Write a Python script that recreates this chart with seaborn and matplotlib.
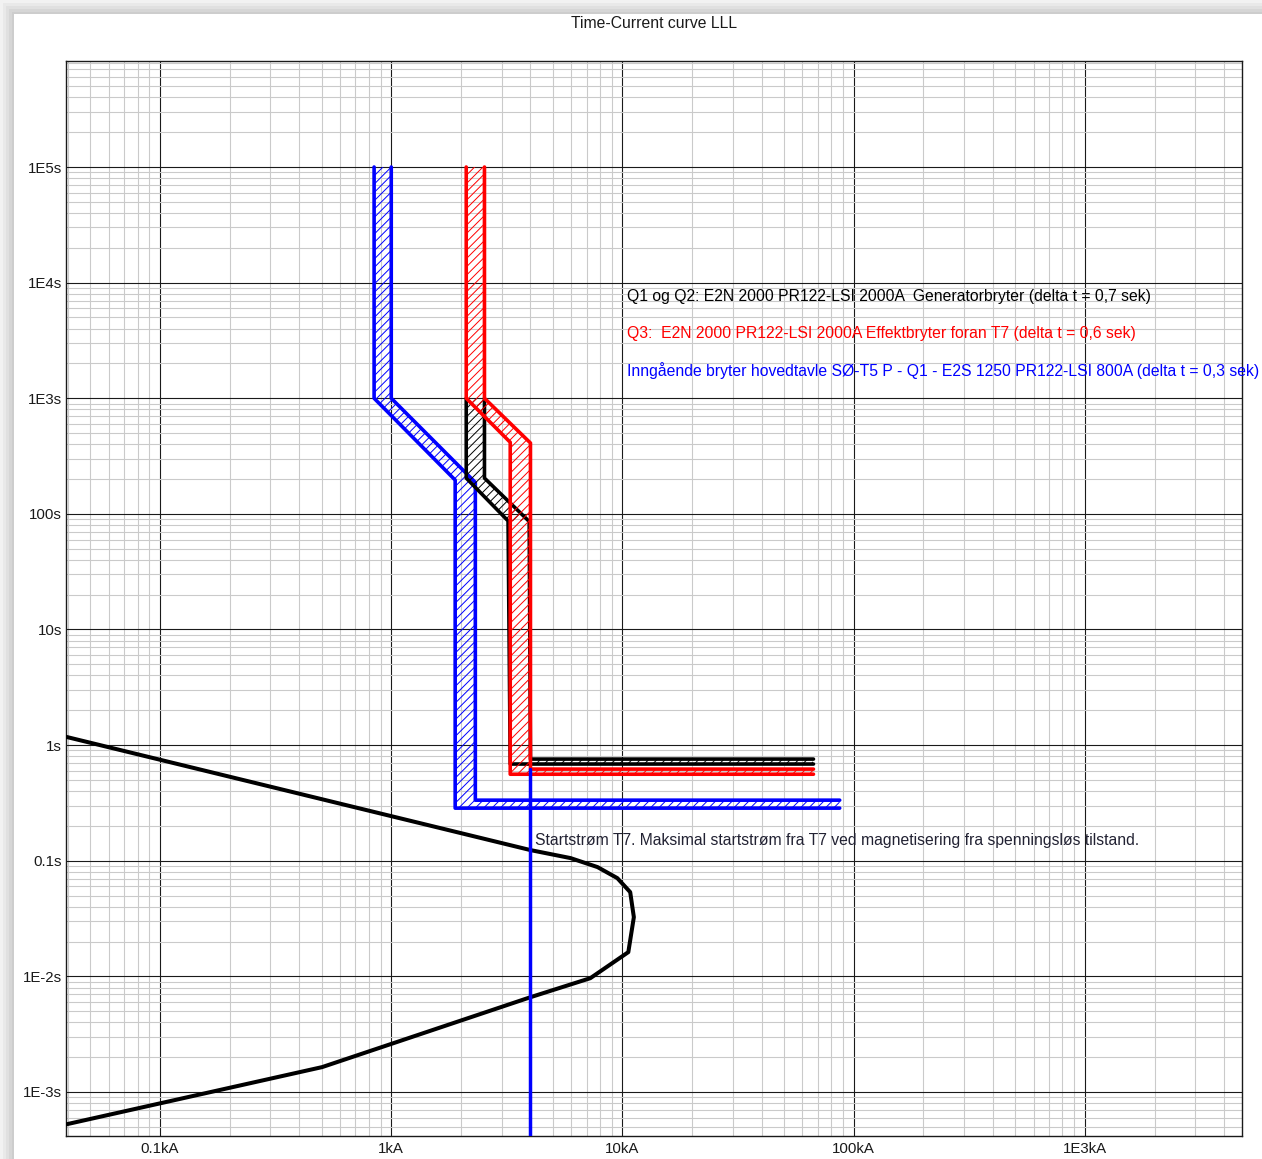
import matplotlib
matplotlib.use("Agg")
import numpy as np
import matplotlib.pyplot as plt
import seaborn as sns
from matplotlib.patches import Polygon, Rectangle
from matplotlib.ticker import FixedLocator, LogLocator, NullFormatter

# --- data (current in kA, time in s) ---
blue_lo_I = [0.843, 0.843, 1.89, 1.89, 87.0]
blue_lo_t = [1e5, 1000, 196, 0.285, 0.285]
blue_hi_I = [1.0, 1.0, 2.31, 2.31, 87.0]
blue_hi_t = [1e5, 1000, 187, 0.334, 0.334]

red_lo_I = [2.11, 2.11, 3.27, 3.27, 67.0]
red_lo_t = [1e5, 1000, 416, 0.56, 0.56]
red_hi_I = [2.53, 2.53, 4.0, 4.0, 67.0]
red_hi_t = [1e5, 1000, 410, 0.62, 0.62]

black_lo_I = [2.11, 2.11, 3.2, 3.27, 67.0]
black_lo_t = [1000, 204, 87, 0.686, 0.686]
black_hi_I = [2.53, 2.53, 3.95, 4.0, 67.0]
black_hi_t = [1000, 204, 86, 0.757, 0.757]

start_I = [4.0, 4.0]
start_t = [0.62, 4.0e-4]

inrush_I = [0.0385, 4.0, 5.96, 7.8, 9.5, 10.8, 11.2, 10.6, 7.26, 4.0, 0.502, 0.0385]
inrush_t = [1.19, 0.1236, 0.1054, 0.0881, 0.0707, 0.0535, 0.0325, 0.0162, 0.00964, 0.0066, 0.00164, 0.00052]

x_ticks = [0.1, 1, 10, 100, 1000]
x_labels = ["0.1kA", "1kA", "10kA", "100kA", "1E3kA"]
y_ticks = [1e5, 1e4, 1e3, 100, 10, 1, 0.1, 1e-2, 1e-3]
y_labels = ["1E5s", "1E4s", "1E3s", "100s", "10s", "1s", "0.1s", "1E-2s", "1E-3s"]

notes = [
    ("Q1 og Q2: E2N 2000 PR122-LSI 2000A  Generatorbryter (delta t = 0,7 sek)", 10.5, 7650, "black"),
    ("Q3:  E2N 2000 PR122-LSI 2000A Effektbryter foran T7 (delta t = 0,6 sek)", 10.5, 3660, "red"),
    ("Inngående bryter hovedtavle SØ-T5 P - Q1 - E2S 1250 PR122-LSI 800A (delta t = 0,3 sek)", 10.5, 1754, "blue"),
    ("Startstrøm T7. Maksimal startstrøm fra T7 ved magnetisering fra spenningsløs tilstand.", 4.2, 0.151, "#222233"),
]

sns.set_style("white")
plt.rcParams["font.family"] = ["Liberation Sans", "DejaVu Sans"]
plt.rcParams["hatch.linewidth"] = 0.7

W, H = 1262, 1159
fig = plt.figure(figsize=(W / 100, H / 100), dpi=100)
fig.patch.set_facecolor("white")

# page shadow on the left / top
for d, c in [(14, "#f2f2f2"), (11, "#e9e9e9"), (8, "#e0e0e0"), (5, "#d6d6d6"), (2, "#cdcdcd")]:
    fig.add_artist(Rectangle(((14 - d) / W, 0), 1, (H - 14 + d) / H, transform=fig.transFigure,
                             facecolor=c, edgecolor="none", zorder=-10))
fig.add_artist(Rectangle((14 / W, 0), 1, (H - 14) / H, transform=fig.transFigure,
                         facecolor="white", edgecolor="none", zorder=-9))

ax = fig.add_axes([66 / W, 1 - 1136 / H, 1176 / W, 1075 / H])
ax.set_xscale("log")
ax.set_yscale("log")
ax.set_xlim(0.0392, 4780)
ax.set_ylim(4.16e-4, 8.26e5)

ax.xaxis.set_major_locator(FixedLocator(x_ticks))
ax.set_xticklabels(x_labels)
ax.yaxis.set_major_locator(FixedLocator(y_ticks))
ax.set_yticklabels(y_labels)
ax.xaxis.set_minor_locator(LogLocator(base=10, subs=np.arange(2, 10), numticks=200))
ax.yaxis.set_minor_locator(LogLocator(base=10, subs=np.arange(2, 10), numticks=200))
ax.xaxis.set_minor_formatter(NullFormatter())
ax.yaxis.set_minor_formatter(NullFormatter())
ax.tick_params(which="both", length=0, labelsize=10.8, colors="#1a1a1a", pad=3)
ax.tick_params(axis="x", pad=4)
ax.grid(which="minor", color="#cacaca", lw=0.8, zorder=0)
ax.grid(which="major", color="#1a1a1a", lw=0.8, zorder=1)
ax.set_axisbelow(True)
for s in ax.spines.values():
    s.set_color("#1a1a1a")
    s.set_linewidth(1.0)


def hatch(pts, color, z):
    ax.add_patch(Polygon(pts, closed=True, fill=False, hatch="////", edgecolor=color, lw=0, zorder=z))


def edges(lo_I, lo_t, hi_I, hi_t, color, z):
    sns.lineplot(x=lo_I, y=lo_t, sort=False, estimator=None, color=color, lw=2.6, ax=ax, zorder=z)
    sns.lineplot(x=hi_I, y=hi_t, sort=False, estimator=None, color=color, lw=2.6, ax=ax, zorder=z)


# blue band
hatch(list(zip(blue_lo_I, blue_lo_t)) + list(zip(blue_hi_I, blue_hi_t))[::-1], "#0000ff", 3)
edges(blue_lo_I, blue_lo_t, blue_hi_I, blue_hi_t, "#0000ff", 3.5)

# black band: hatch only where it is not hidden under the red band
hatch(list(zip(black_lo_I[:3], black_lo_t[:3])) + list(zip(black_hi_I[:3], black_hi_t[:3]))[::-1], "black", 4)
hatch([(black_hi_I[3], black_lo_t[3]), (black_lo_I[4], black_lo_t[4]),
       (black_hi_I[4], black_hi_t[4]), (black_hi_I[3], black_hi_t[3])], "black", 4)
edges(black_lo_I, black_lo_t, black_hi_I, black_hi_t, "black", 4.5)

# red band
hatch(list(zip(red_lo_I, red_lo_t)) + list(zip(red_hi_I, red_hi_t))[::-1], "#ff0000", 5)
edges(red_lo_I, red_lo_t, red_hi_I, red_hi_t, "#ff0000", 5.5)

sns.lineplot(x=inrush_I, y=inrush_t, sort=False, estimator=None, color="black", lw=2.9, ax=ax, zorder=6)
sns.lineplot(x=start_I, y=start_t, sort=False, estimator=None, color="#0000ff", lw=2.5, ax=ax, zorder=7)

for txt, xi, yt, c in notes:
    ax.text(xi, yt, txt, color=c, fontsize=11.3, ha="left", va="center", zorder=8)

fig.text(654 / W, 1 - 24 / H, "Time-Current curve LLL", ha="center", va="center",
         fontsize=11.3, color="#1a1a1a")
ax.set_xlabel("")
ax.set_ylabel("")

fig.savefig("out.png", dpi=100)
